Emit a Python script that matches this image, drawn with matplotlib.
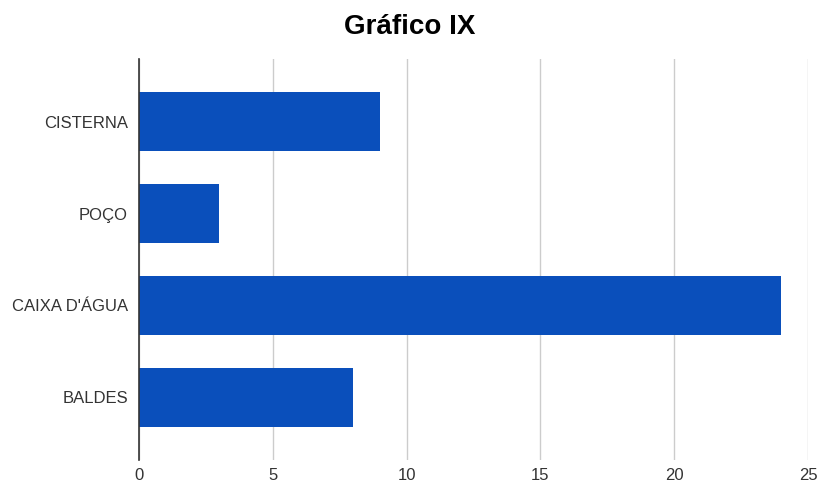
import matplotlib
matplotlib.use("Agg")
import matplotlib.pyplot as plt

categories = ["CISTERNA", "POÇO", "CAIXA D'ÁGUA", "BALDES"]
values = [9, 3, 24, 8]
xticks = [0, 5, 10, 15, 20, 25]

plt.rcParams['font.family'] = ['Liberation Sans', 'DejaVu Sans']

fig = plt.figure(figsize=(8.19, 4.82), dpi=100)
ax = fig.add_axes([139 / 819, 1 - 460 / 482, (808 - 139) / 819, (460 - 59) / 482])

pos = list(range(len(categories)))
ax.barh(pos, values, height=0.64, color="#0a4fbb", zorder=3)

ax.set_ylim(len(categories) - 1 + 0.68, -0.68)
ax.set_xlim(0, 25)
ax.set_xticks(xticks)
ax.set_xticklabels([str(t) for t in xticks])
ax.set_yticks(pos)
ax.set_yticklabels(categories)

ax.grid(axis="x", color="#cccccc", linewidth=1, zorder=0)
ax.set_axisbelow(True)
for side in ["top", "right", "bottom"]:
    ax.spines[side].set_visible(False)
ax.spines["left"].set_color("#333333")
ax.spines["left"].set_linewidth(1.2)
ax.spines["left"].set_zorder(4)

ax.tick_params(axis="both", length=0, labelsize=12, labelcolor="#333333")
ax.tick_params(axis="y", pad=8)
ax.tick_params(axis="x", pad=6)

fig.text(0.5, 1 - 27 / 482, "Gráfico IX", ha="center", va="center",
         fontsize=20, fontweight="bold", color="#000000")

fig.savefig("out.png", dpi=100)
